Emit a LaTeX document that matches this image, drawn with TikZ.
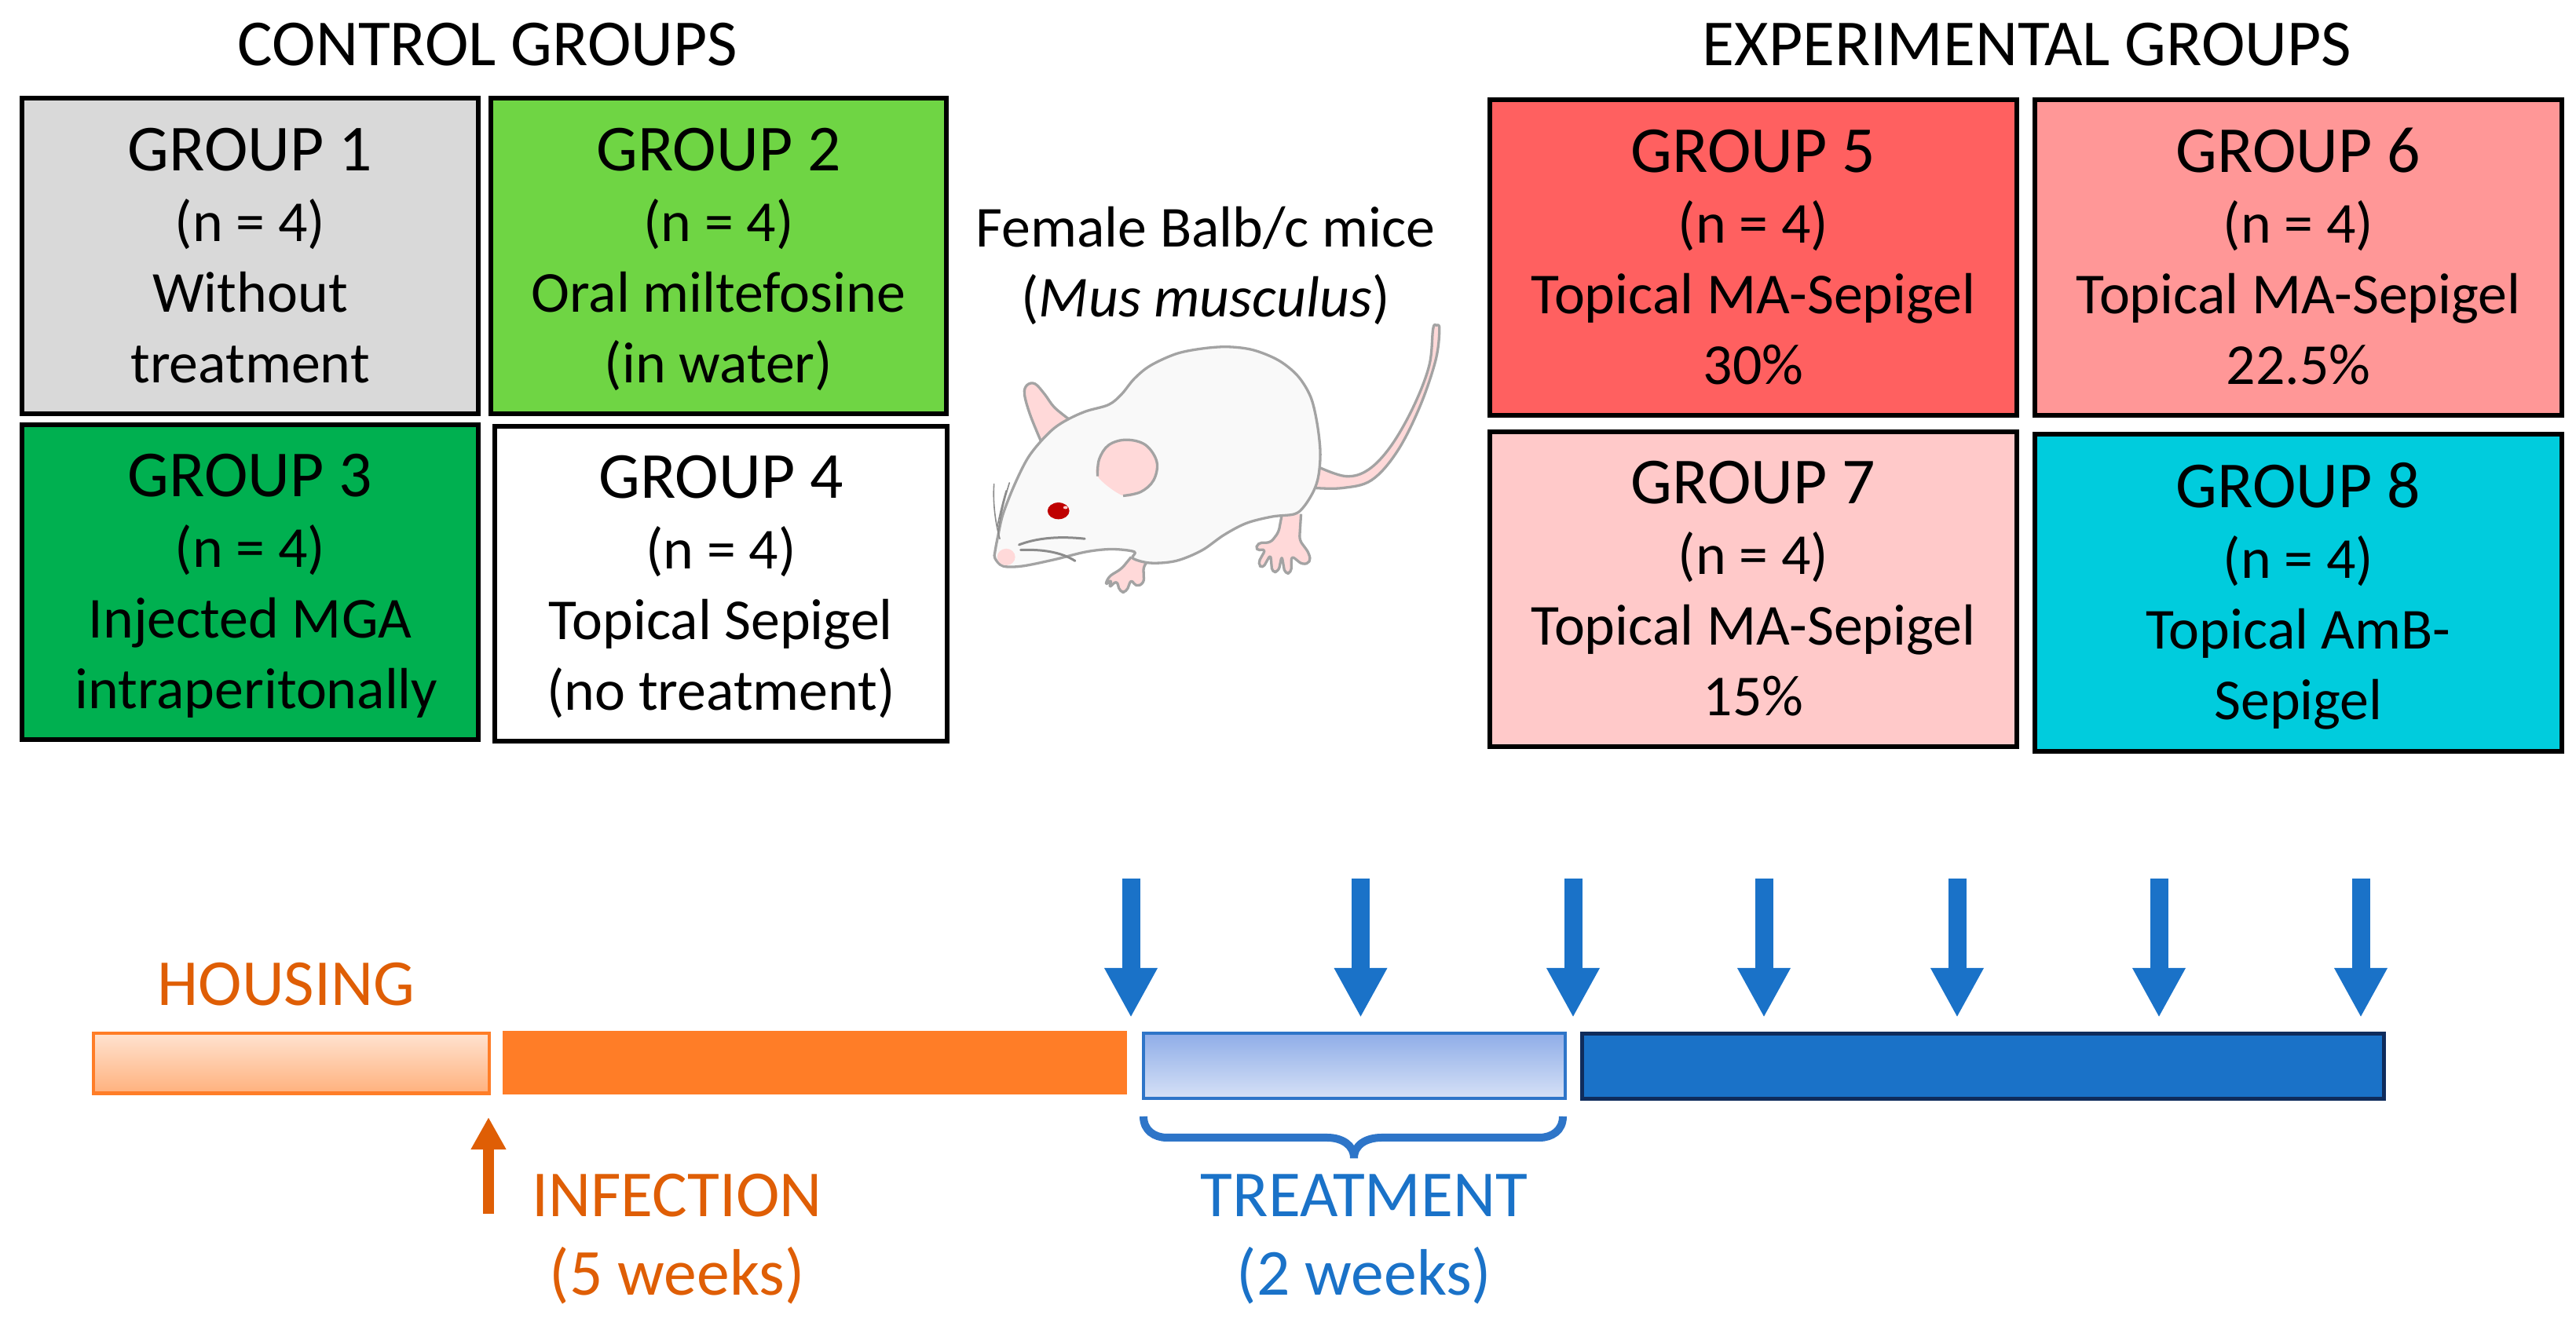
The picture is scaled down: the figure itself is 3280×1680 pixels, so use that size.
\documentclass[tikz,border=0pt]{standalone}
\usepackage{fontspec}
\setmainfont{Carlito}
\usetikzlibrary{arrows.meta}
\definecolor{orangeText}{HTML}{DF5E05}
\definecolor{orangeBar}{HTML}{FF7D27}
\definecolor{blueMain}{HTML}{1A72C8}
\definecolor{blueDark}{HTML}{0F2C5C}
\definecolor{blueEdge}{HTML}{2E75C8}
\definecolor{mouseLine}{HTML}{A3A3A3}
\definecolor{mouseBody}{HTML}{F9F9F9}
\definecolor{mousePink}{HTML}{FFD9D9}
\newcommand{\headtxt}{\fontsize{23.8}{28.45}\selectfont}
\newcommand{\bodytxt}{\fontsize{21}{25.6}\selectfont}
\newcommand{\groupcontent}[4]{\rule{0pt}{20.85pt}{\headtxt #1}\\#2\\#3\\\rule[-6pt]{0pt}{6pt}#4}
\tikzset{
  groupbox/.style={draw=black,line width=.06cm,inner sep=0pt,align=center,font=\bodytxt,
    minimum width=5.81cm,minimum height=4.01cm},
  groupwide/.style={groupbox,minimum width=6.70cm},
  title/.style={font=\headtxt,anchor=base,inner sep=0pt},
  timeorange/.style={font=\headtxt,text=orangeText,inner sep=0pt,align=center},
  timeblue/.style={font=\headtxt,text=blueMain,inner sep=0pt,align=center},
  micetext/.style={font=\fontsize{21}{25.3}\selectfont,inner sep=0pt,align=center},
  bar/.style={inner sep=0pt,anchor=north west},
  dosearrow/.style={draw=blueMain,line width=.23cm,-{Triangle[length=.63cm,width=.63cm]}},
  infectarrow/.style={draw=orangeText,line width=.14cm,-{Triangle[length=.41cm,width=.42cm]}},
  mouseedge/.style={draw=mouseLine,line width=.033cm,line join=round},
  whisker/.style={draw=mouseLine!85!black,line width=.016cm,line cap=round},
  mouthline/.style={draw=mouseLine!85!black,line width=.03cm,line cap=round},
}
\begin{document}
\begin{tikzpicture}[x=.01cm,y=-.01cm]
\useasboundingbox (0,0) rectangle (3280,1680);
\fill[white] (0,0) rectangle (3280,1680);

\node[title] (ctitle) at (621,84) {CONTROL GROUPS};
\node[title] (etitle) at (2581,84) {EXPERIMENTAL GROUPS};

\node[groupbox,fill={rgb,255:red,217;green,217;blue,217}] (g1) at (318.5,326) {\groupcontent{GROUP 1}{(n = 4)}{Without}{treatment}};
\node[groupbox,fill={rgb,255:red,111;green,213;blue,68},minimum width=5.80cm] (g2) at (915,326) {\groupcontent{GROUP 2}{(n = 4)}{Oral miltefosine}{(in water)}};
\node[groupbox,fill={rgb,255:red,0;green,176;blue,80}] (g3) at (318.5,741.5) {\groupcontent{GROUP 3}{(n = 4)}{Injected MGA}{\hspace*{4.5pt}intraperitonally}};
\node[groupbox,fill=white,minimum width=5.75cm] (g4) at (918,743.5) {\groupcontent{GROUP 4}{(n = 4)}{Topical Sepigel}{(no treatment)}};

\node[groupwide,fill={rgb,255:red,255;green,96;blue,96}] (g5) at (2232.5,328) {\groupcontent{GROUP 5}{(n = 4)}{Topical MA-Sepigel}{30\%}};
\node[groupwide,fill={rgb,255:red,255;green,151;blue,151}] (g6) at (2926.5,328) {\groupcontent{GROUP 6}{(n = 4)}{Topical MA-Sepigel}{22.5\%}};
\node[groupwide,fill={rgb,255:red,255;green,201;blue,201}] (g7) at (2232.5,750.5) {\groupcontent{GROUP 7}{(n = 4)}{Topical MA-Sepigel}{15\%}};
\node[groupwide,fill={rgb,255:red,0;green,204;blue,221},minimum height=4.03cm] (g8) at (2926.5,755) {\groupcontent{GROUP 8}{(n = 4)}{Topical AmB-}{Sepigel}};

\node[micetext] (mice) at (1535,341) {\rule{0pt}{16pt}Female Balb/c mice\\\rule[-6pt]{0pt}{6pt}(\textit{Mus musculus})};

% mouse
\begin{scope}[shift={(1220,260)},xscale=.408,yscale=.3317]
  % tail
  \path[fill=mousePink,mouseedge] plot[smooth,tension=.6] coordinates {(1125,1010) (1210,1045) (1280,1020) (1350,930) (1420,780) (1470,620) (1482,480) (1492,465) (1502,480) (1490,600) (1440,780) (1370,950) (1290,1060) (1200,1090) (1115,1090)};
  % far ear
  \path[fill=mousePink,mouseedge] plot[smooth,tension=.6] coordinates {(260,915) (225,810) (207,730) (215,695) (240,690) (270,730) (300,780) (345,825)};
  % hind foot
  \path[fill=mousePink,mouseedge,rounded corners=1.5pt] (1010,1195) -- (1000,1260) -- (975,1300) -- (935,1300) -- (928,1330) -- (960,1325) -- (935,1380) -- (950,1400) -- (975,1345) -- (980,1415) -- (1000,1410) -- (1010,1350) -- (1020,1420) -- (1040,1415) -- (1040,1350) -- (1075,1385) -- (1100,1375) -- (1095,1340) -- (1065,1290) -- (1070,1190);
  % fore foot
  \path[fill=mousePink,mouseedge,rounded corners=1.5pt] (540,1355) -- (510,1400) -- (470,1430) -- (458,1465) -- (480,1440) -- (470,1475) -- (495,1445) -- (505,1490) -- (525,1490) -- (540,1440) -- (555,1470) -- (580,1455) -- (578,1390) -- (590,1375);
  % body
  \path[fill=mouseBody,mouseedge] plot[smooth cycle,tension=.55] coordinates {(115,1335) (125,1270) (140,1190) (175,1080) (215,980) (255,915) (300,860) (345,825) (400,795) (470,770) (510,730) (550,670) (600,620) (680,575) (760,555) (840,548) (920,560) (1000,600) (1060,660) (1100,740) (1120,840) (1130,950) (1125,1040) (1110,1100) (1080,1160) (1050,1190) (980,1200) (900,1225) (830,1270) (760,1330) (680,1370) (600,1378) (545,1360) (550,1335) (480,1325) (400,1335) (300,1365) (200,1390) (140,1390) (115,1360)};
  % near ear
  \fill[mousePink] plot[smooth cycle,tension=.6] coordinates {(435,1045) (440,980) (470,925) (525,905) (585,925) (620,990) (610,1060) (570,1105) (515,1120)};
  \path[mouseedge] plot[smooth,tension=.6] coordinates {(435,1045) (440,980) (470,925) (525,905) (585,925) (620,990) (610,1060) (570,1105) (515,1120)};
  % nose
  \fill[mousePink] (150,1355) ellipse [x radius=28,y radius=32];
  % eye
  \fill[red!75!black] (313,1178) ellipse [x radius=34,y radius=32];
  \fill[white!80!red] (335,1165) ellipse [x radius=7,y radius=6];
  % whiskers and mouth
  \draw[whisker] (112,1075) .. controls (108,1140) and (115,1220) .. (130,1285);
  \draw[whisker] (160,1070) .. controls (145,1130) and (130,1200) .. (125,1265);
  \draw[whisker] (150,1100) .. controls (140,1140) and (130,1190) .. (122,1240);
  \draw[mouthline] (190,1308) .. controls (250,1280) and (320,1275) .. (395,1285);
  \draw[mouthline] (195,1328) .. controls (260,1325) and (320,1335) .. (365,1370);
\end{scope}

% timeline bars
\node[bar,draw=orangeBar,line width=.045cm,top color=orangeBar!22!white,bottom color=orangeBar!60!white,minimum width=5.04cm,minimum height=.76cm] (housing) at (116.5,1314) {};
\node[bar,fill=orangeBar,minimum width=7.94cm,minimum height=.81cm] (infection) at (639.5,1312) {};
\node[bar,draw=blueEdge,line width=.04cm,top color={rgb,255:red,143;green,173;blue,232},bottom color={rgb,255:red,214;green,225;blue,246},minimum width=5.37cm,minimum height=.83cm] (treatment) at (1453.5,1314) {};
\node[bar,draw=blueDark,line width=.05cm,fill=blueMain,minimum width=10.21cm,minimum height=.82cm] (after) at (2011.5,1314.5) {};

% dose arrows
\foreach \i/\px in {1/1440,2/1732.5,3/2003,4/2246,5/2492,6/2749,7/3006}{
  \coordinate (top\i) at (\px,1119);
  \coordinate (tip\i) at (\px,1296);
  \draw[dosearrow] (top\i) -- (tip\i);
}

% infection arrow
\coordinate (inffoot) at (622,1546);
\coordinate (inftip) at (622,1423);
\draw[infectarrow] (inffoot) -- (inftip);

% brace
\draw[draw=blueEdge,line width=.1cm] (1456,1422) .. controls (1456,1440) and (1470,1449) .. (1486,1449) -- (1690,1449) .. controls (1708,1449) and (1724,1458) .. (1724,1475) .. controls (1724,1458) and (1740,1449) .. (1759,1449) -- (1960,1449) .. controls (1976,1449) and (1990,1440) .. (1990,1422);

% timeline text
\node[timeorange,anchor=base] (housingtxt) at (364.5,1281) {HOUSING};
\node[timeorange] (inftxt) at (862,1581.5) {\rule{0pt}{16pt}INFECTION\\\rule[-6pt]{0pt}{6pt}(5 weeks)};
\node[timeblue] (treattxt) at (1737,1581.5) {\rule{0pt}{16pt}TREATMENT\\\rule[-6pt]{0pt}{6pt}(2 weeks)};
\end{tikzpicture}
\end{document}
